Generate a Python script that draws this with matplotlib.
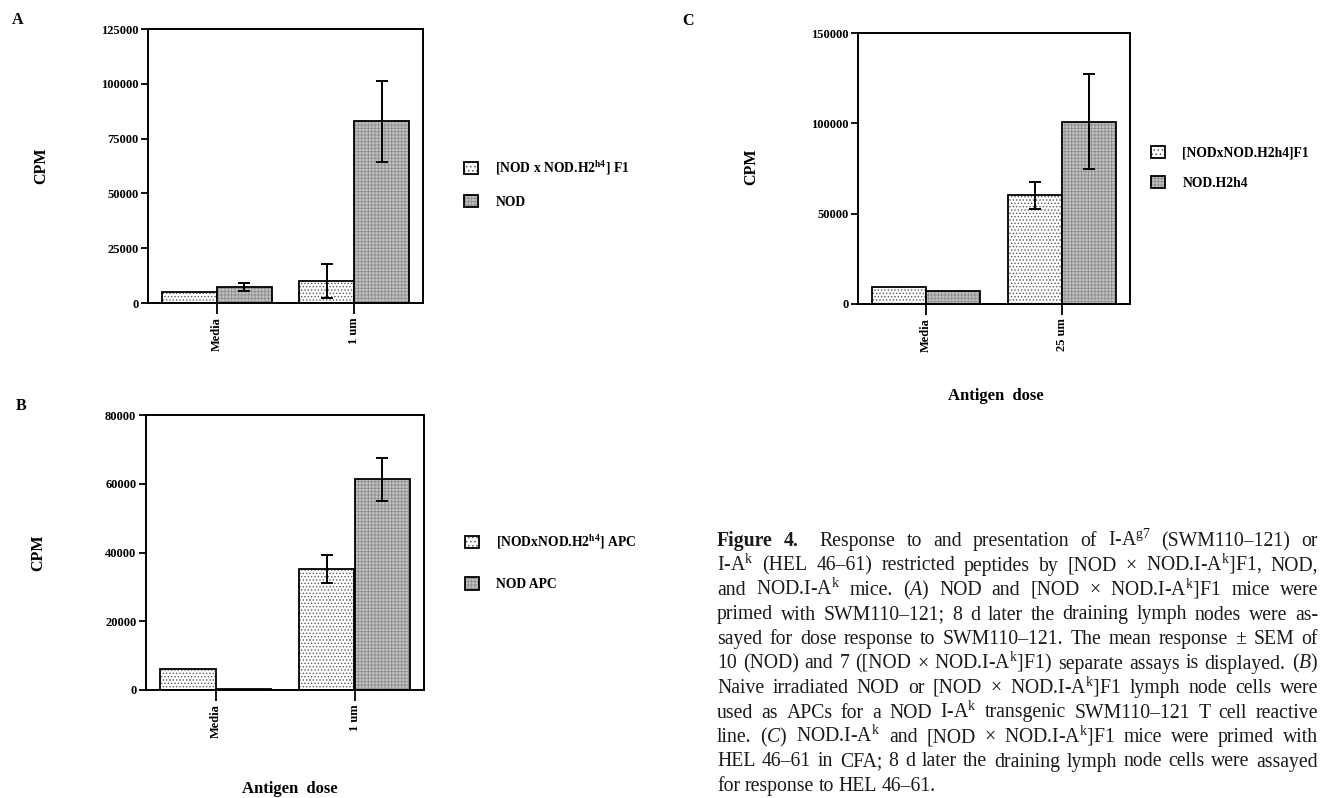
import numpy as np
import matplotlib
matplotlib.use("Agg")
import matplotlib.pyplot as plt
from matplotlib.patches import Patch

plt.rcParams['font.family'] = ['Liberation Serif', 'DejaVu Serif']
plt.rcParams['mathtext.fontset'] = 'custom'
plt.rcParams['mathtext.rm'] = 'Liberation Serif'
plt.rcParams['mathtext.it'] = 'Liberation Serif:italic'
plt.rcParams['mathtext.bf'] = 'Liberation Serif:bold'
plt.rcParams['hatch.linewidth'] = 0.6

# --- data ---
doses_A = ['Media', '1 um']
f1_A = [5000, 10200]
f1_A_err = [0, 7800]
nod_A = [7200, 83000]
nod_A_err = [1800, 18500]
yticks_A = [0, 25000, 50000, 75000, 100000, 125000]
legend_A = [r'[NOD x NOD.H2$^{\mathbf{h4}}$] F1', 'NOD']

doses_B = ['Media', '1 um']
f1_B = [6200, 35300]
f1_B_err = [0, 4100]
nod_B = [300, 61300]
nod_B_err = [0, 6300]
yticks_B = [0, 20000, 40000, 60000, 80000]
legend_B = [r'[NODxNOD.H2$^{\mathbf{h4}}$] APC', 'NOD APC']

doses_C = ['Media', '25 um']
f1_C = [9400, 60300]
f1_C_err = [0, 7500]
nod_C = [7400, 101000]
nod_C_err = [0, 26300]
yticks_C = [0, 50000, 100000, 150000]
legend_C = ['[NODxNOD.H2h4]F1', 'NOD.H2h4']

caption_lines = [
    r'Figure 4. Response to and presentation of I-A$^{\mathrm{g7}}$ (SWM110–121) or',
    r'I-A$^{\mathrm{k}}$ (HEL 46–61) restricted peptides by [NOD × NOD.I-A$^{\mathrm{k}}$]F1, NOD,',
    r'and NOD.I-A$^{\mathrm{k}}$ mice. ($\mathit{A}$) NOD and [NOD × NOD.I-A$^{\mathrm{k}}$]F1 mice were',
    r'primed with SWM110–121; 8 d later the draining lymph nodes were as-',
    r'sayed for dose response to SWM110–121. The mean response ± SEM of',
    r'10 (NOD) and 7 ([NOD × NOD.I-A$^{\mathrm{k}}$]F1) separate assays is displayed. ($\mathit{B}$)',
    r'Naive irradiated NOD or [NOD × NOD.I-A$^{\mathrm{k}}$]F1 lymph node cells were',
    r'used as APCs for a NOD I-A$^{\mathrm{k}}$ transgenic SWM110–121 T cell reactive',
    r'line. ($\mathit{C}$) NOD.I-A$^{\mathrm{k}}$ and [NOD × NOD.I-A$^{\mathrm{k}}$]F1 mice were primed with',
    r'HEL 46–61 in CFA; 8 d later the draining lymph node cells were assayed',
    r'for response to HEL 46–61.',
]

W, H = 1321, 798
fig = plt.figure(figsize=(W / 100, H / 100), dpi=100)


def box(x0, y0, x1, y1):
    """pixel box (top-left origin) -> figure rect"""
    return [x0 / W, 1 - y1 / H, (x1 - x0) / W, (y1 - y0) / H]


DOT_FACE, DOT_HATCH = 'white', '#5a5a5a'
GREY_FACE, GREY_HATCH = '#c2c2c2', '#8e8e8e'


def draw_panel(ax, doses, f1, f1_err, nod, nod_err, yticks, labels, leg_xy, leg_space, xlabel):
    x = np.arange(len(doses))
    w = 0.4
    ax.bar(x - w / 2, f1, w, color=DOT_FACE, hatch='.....', edgecolor=DOT_HATCH, linewidth=0)
    ax.bar(x - w / 2, f1, w, fill=False, edgecolor='black', linewidth=1.3)
    ax.bar(x + w / 2, nod, w, color=GREY_FACE, hatch='+++++', edgecolor=GREY_HATCH, linewidth=0)
    ax.bar(x + w / 2, nod, w, fill=False, edgecolor='black', linewidth=1.3)

    # error bars only where an SEM was drawn
    for xs, vals, errs in [(x - w / 2, f1, f1_err), (x + w / 2, nod, nod_err)]:
        errs = np.asarray(errs)
        m = errs > 0
        if m.any():
            ax.errorbar(xs[m], np.asarray(vals)[m], yerr=errs[m], fmt='none',
                        ecolor='black', elinewidth=1.4, capsize=4.5, capthick=1.4)

    ax.set_xlim(-0.5, 1.5)
    ax.set_ylim(0, yticks[-1])
    ax.set_yticks(yticks)
    ax.set_yticklabels([str(t) for t in yticks], fontsize=9, fontweight='bold')
    ax.set_xticks(x)
    ax.set_xticklabels(doses, rotation=90, fontsize=9, fontweight='bold', va='top')
    ax.tick_params(axis='y', direction='out', length=5, width=1.3, pad=2)
    ax.tick_params(axis='x', direction='out', length=8, width=1.3, pad=2)
    for s in ax.spines.values():
        s.set_linewidth(1.4)

    ax.set_ylabel('CPM', fontsize=11.5, fontweight='bold')
    ax.yaxis.set_label_coords(-0.36, 0.5)
    if xlabel:
        ax.set_xlabel('Antigen  dose', fontsize=12, fontweight='bold')

    handles = []
    for face, hatch, hcol in [(DOT_FACE, '....', DOT_HATCH), (GREY_FACE, '+++++', GREY_HATCH)]:
        handles.append((Patch(facecolor=face, hatch=hatch, edgecolor=hcol, linewidth=0),
                        Patch(fill=False, edgecolor='black', linewidth=1.3)))
    ax.legend(handles, labels, loc='center left', bbox_to_anchor=(leg_xy[0] / W, 1 - leg_xy[1] / H),
              bbox_transform=fig.transFigure, frameon=False, borderpad=0, borderaxespad=0,
              handlelength=1.0, handleheight=1.0, handletextpad=1.3, labelspacing=leg_space,
              prop={'size': 9.8, 'weight': 'bold'})


axA = fig.add_axes(box(148, 29, 423, 303))
draw_panel(axA, doses_A, f1_A, f1_A_err, nod_A, nod_A_err, yticks_A, legend_A,
           (464, 184), 1.3, False)

axB = fig.add_axes(box(146, 415, 424, 690))
draw_panel(axB, doses_B, f1_B, f1_B_err, nod_B, nod_B_err, yticks_B, legend_B,
           (465, 562), 1.95, True)
axB.xaxis.set_label_coords(0.518, -0.36)
axB.xaxis.label.set_va('center')

axC = fig.add_axes(box(858, 33, 1130, 304))
draw_panel(axC, doses_C, f1_C, f1_C_err, nod_C, nod_C_err, yticks_C, legend_C,
           (1151, 168), 1.2, True)
axC.yaxis.set_label_coords(-0.364, 0.505)
axC.xaxis.set_label_coords(0.507, -0.34)
axC.xaxis.label.set_va('center')

for letter, (px, py) in zip('ABC', [(18, 20), (21, 406), (688, 21)]):
    fig.text(px / W, 1 - py / H, letter, fontsize=11.5, fontweight='bold', ha='center', va='center')

# --- justified caption, one word at a time ---
renderer = fig.canvas.get_renderer()
cap_left, cap_right, base0, pitch = 717, 1318, 546, 24.5
for i, line in enumerate(caption_lines):
    words = line.split(' ')
    texts = []
    for j, wd in enumerate(words):
        bold = (i == 0 and j < 2)
        texts.append(fig.text(0, 1 - (base0 + i * pitch) / H, wd, fontsize=14.2,
                              fontweight='bold' if bold else 'normal', va='baseline',
                              color='#1a1a1a'))
    widths = [t.get_window_extent(renderer).width for t in texts]
    extra = [0] * len(words)
    if i == 0:
        extra[1] = 10
    if i < len(caption_lines) - 1:
        gap = (cap_right - cap_left - sum(widths) - sum(extra)) / (len(words) - 1)
        gap = max(gap, 3)
    else:
        gap = 4.5
    xpos = cap_left
    for t, wdt, ex in zip(texts, widths, extra):
        t.set_x(xpos / W)
        xpos += wdt + gap + ex

fig.savefig('out.png', dpi=100)
